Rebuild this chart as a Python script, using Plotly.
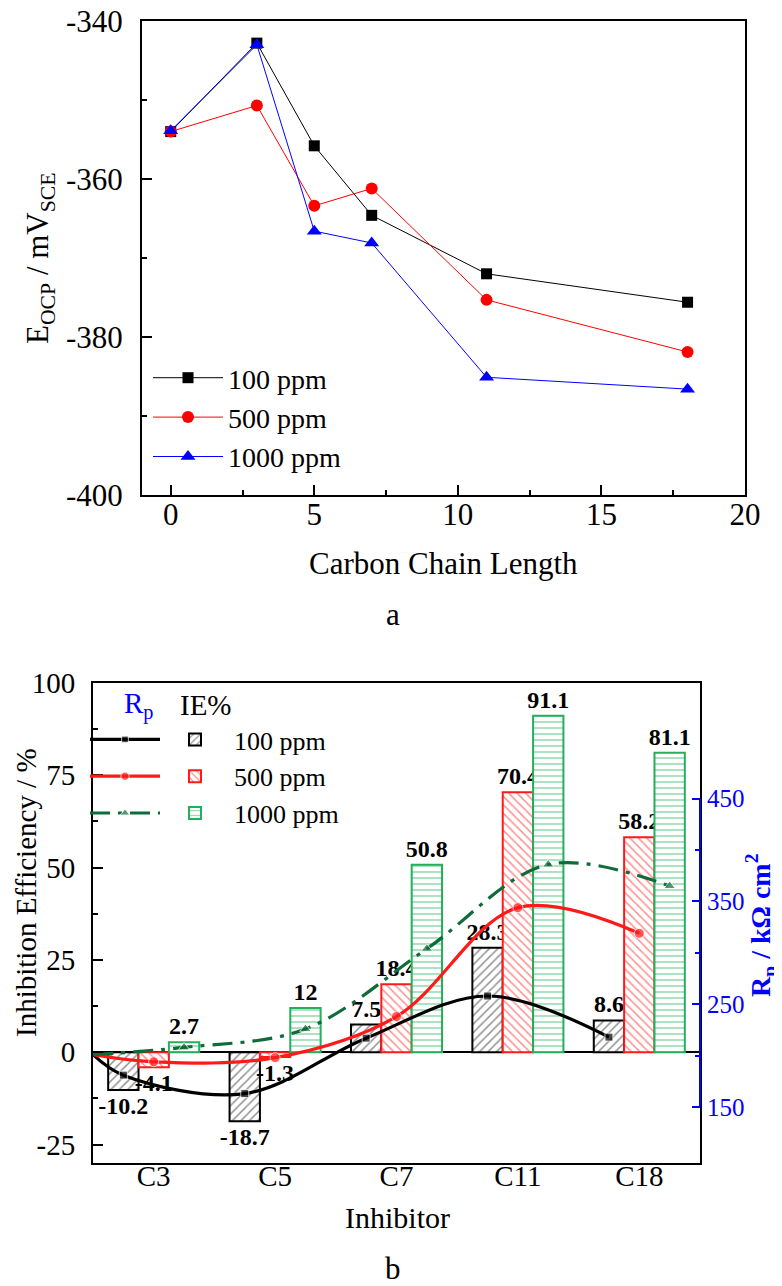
import numpy as np
import plotly.graph_objects as go

# ---------------- data: panel a ----------------
chain_length = [0, 3, 5, 7, 11, 18]
eocp_100 = [-354.0, -342.8, -355.8, -364.6, -372.0, -375.6]
eocp_500 = [-354.0, -350.7, -363.4, -361.2, -375.3, -381.9]
eocp_1000 = [-353.9, -343.0, -366.6, -368.1, -385.1, -386.6]
eocp_ticks = [-400, -380, -360, -340]
length_ticks = [0, 5, 10, 15, 20]

# ---------------- data: panel b ----------------
inhibitors = ["C3", "C5", "C7", "C11", "C18"]
ie_100 = [-10.2, -18.7, 7.5, 28.3, 8.6]
ie_500 = [-4.1, -1.3, 18.4, 70.4, 58.2]
ie_1000 = [2.7, 12, 50.8, 91.1, 81.1]
ie_ticks = [-25, 0, 25, 50, 75, 100]
rp_blank = 201
rp_100 = [181, 163, 217, 258, 218]
rp_500 = [194, 198, 238, 344, 319]
rp_1000 = [208, 226, 304, 386, 365]
rp_ticks = [150, 250, 350, 450]

W, H = 782, 1286
FONT = "Liberation Serif"


def fx(px):
    return px / W


def fy(py):
    return 1 - py / H


def labels(vals):
    return [f"{v:g}" for v in vals]


fig = go.Figure()

# ---------- panel a traces ----------
for name, vals, col, sym, ms in [
    ("100 ppm", eocp_100, "black", "square", 11),
    ("500 ppm", eocp_500, "#ff0000", "circle", 12),
    ("1000 ppm", eocp_1000, "#0000ff", "triangle-up", 13),
]:
    fig.add_trace(go.Scatter(
        x=chain_length, y=vals, name=name, mode="lines+markers",
        line=dict(color=col, width=1), marker=dict(symbol=sym, size=ms, color=col),
        xaxis="x", yaxis="y", legend="legend"))

# ---------- panel b bars ----------
pos = np.arange(1, len(inhibitors) + 1)
bar_specs = [
    ("100 ppm", ie_100, "black", "#222222", "/"),
    ("500 ppm", ie_500, "#ff1a1a", "#ff1a1a", "\\"),
    ("1000 ppm", ie_1000, "#22b05a", "#22b05a", "-"),
]
for name, vals, edge, hatch, shape in bar_specs:
    fig.add_trace(go.Bar(
        x=pos, y=vals, name=name, xaxis="x2", yaxis="y2", legend="legend2",
        marker=dict(color="white", line=dict(color=edge, width=2),
                    pattern=dict(shape=shape, fgcolor=hatch, bgcolor="white",
                                 size=6, solidity=0.25)),
        text=labels(vals), textposition="outside",
        textfont=dict(family=FONT, size=24, color="black", weight="bold"),
        constraintext="none", cliponaxis=False))

# ---------- panel b Rp curves ----------
bargap = 0.25
bw = (1 - bargap) / 3
x_blank = 0.5
rp_specs = [
    (rp_100, -bw, "black", "square", 8, "solid"),
    (rp_500, 0.0, "#ff1a1a", "circle", 10, "solid"),
    (rp_1000, bw, "#0f6b3a", "triangle-up", 10, "20px,8px,4px,8px"),
]
for vals, off, col, sym, ms, dash in rp_specs:
    xs = [x_blank] + list(pos + off)
    ys = [rp_blank] + list(vals)
    fig.add_trace(go.Scatter(
        x=xs, y=ys, name=" ", mode="lines+markers", xaxis="x2", yaxis="y3",
        legend="legend3",
        line=dict(color=col, width=3.2, shape="spline", smoothing=1.0, dash=dash),
        marker=dict(symbol=sym, color=col, size=[0] + [ms] * len(vals)),
        cliponaxis=False))

axis_common = dict(showline=True, linecolor="black", linewidth=2, mirror=True,
                   showgrid=False, zeroline=False, ticks="inside",
                   tickcolor="black", tickwidth=2, ticklabeloverflow="allow",
                   tickfont=dict(family=FONT, size=31, color="black"))

layout = dict(
    width=W, height=H, margin=dict(l=0, r=0, t=0, b=0),
    paper_bgcolor="white", plot_bgcolor="white",
    barmode="group", bargap=bargap, bargroupgap=0,
    font=dict(family=FONT, color="black"),
    xaxis=dict(domain=[fx(134), fx(737)], anchor="y", range=[-1, 20],
               tickvals=length_ticks, ticktext=labels(length_ticks), ticklen=10,
               minor=dict(ticks="inside", dtick=2.5, tick0=0, ticklen=5,
                          tickcolor="black", tickwidth=2),
               ticklabelstandoff=-9, automargin=False, **axis_common),
    yaxis=dict(domain=[fy(487), fy(13)], anchor="x", range=[-400, -340],
               tickvals=eocp_ticks, ticktext=labels(eocp_ticks), ticklen=10,
               minor=dict(ticks="inside", dtick=10, tick0=-400, ticklen=5,
                          tickcolor="black", tickwidth=2),
               ticklabelstandoff=11, automargin=False, **axis_common),
    xaxis2=dict(domain=[fx(85), fx(692)], anchor="y2", range=[0.5, 5.5],
                tickvals=list(pos), ticktext=inhibitors, automargin=False,
                ticklabelstandoff=-14,
                **{**axis_common, "ticks": "", "tickfont": dict(family=FONT, size=29, color="black")}),
    xaxis3=dict(overlaying="x2", anchor="y2", range=[0.5, 5.5],
                tickvals=list(0.5 + 0.625 * np.arange(1, 8)), showticklabels=False,
                ticks="inside", ticklen=7, tickwidth=2, tickcolor="black",
                showline=False, showgrid=False, zeroline=False),
    yaxis2=dict(domain=[fy(1155), fy(675)], anchor="x2", range=[-30, 100],
                tickvals=ie_ticks, ticktext=labels(ie_ticks), ticklen=10,
                minor=dict(ticks="inside", dtick=12.5, tick0=0, ticklen=5,
                           tickcolor="black", tickwidth=2),
                ticklabelstandoff=10, automargin=False,
                **{**axis_common, "zeroline": True, "zerolinecolor": "black", "zerolinewidth": 2,
                   "tickfont": dict(family=FONT, size=29, color="black")}),
    yaxis3=dict(overlaying="y2", anchor="x2", side="right", range=[95.5, 562.6],
                tickvals=rp_ticks, ticktext=labels(rp_ticks), ticks="inside", ticklen=8,
                tickcolor="#0000ff", tickwidth=2,
                minor=dict(ticks="inside", tickmode="array", tickvals=[200, 300, 400],
                           ticklen=5, tickcolor="#0000ff", tickwidth=2),
                tickfont=dict(family=FONT, size=25, color="#0000ff"),
                showline=False, showgrid=False, zeroline=False,
                ticklabelstandoff=6, automargin=False),
    legend=dict(x=fx(140), y=fy(345), xanchor="left", yanchor="top",
                bgcolor="rgba(0,0,0,0)", font=dict(family=FONT, size=28),
                itemwidth=70, tracegroupgap=0),
    legend2=dict(x=fx(148), y=fy(708), xanchor="left", yanchor="top",
                 bgcolor="rgba(0,0,0,0)", font=dict(family=FONT, size=26),
                 itemwidth=68),
    legend3=dict(x=fx(77), y=fy(708), xanchor="left", yanchor="top",
                 bgcolor="rgba(0,0,0,0)", font=dict(family=FONT, size=26),
                 itemwidth=70),
    shapes=[dict(type="line", xref="paper", yref="y3", x0=fx(692), x1=fx(692),
                 y0=150, y1=450, line=dict(color="#0000ff", width=2), layer="above")],
    annotations=[
        dict(text="Carbon Chain Length", x=fx(435), y=fy(555), xref="paper", yref="paper",
             showarrow=False, font=dict(family=FONT, size=31), xanchor="center", yanchor="middle"),
        dict(text="a", x=fx(385), y=fy(606), xref="paper", yref="paper",
             showarrow=False, font=dict(family=FONT, size=31), xanchor="center", yanchor="middle"),
        dict(text="E<sub>OCP</sub> / mV<sub>SCE</sub>", x=fx(32), y=fy(250), xref="paper",
             yref="paper", showarrow=False, textangle=-90,
             font=dict(family=FONT, size=31), xanchor="center", yanchor="middle"),
        dict(text="Inhibitor", x=fx(389), y=fy(1209), xref="paper", yref="paper",
             showarrow=False, font=dict(family=FONT, size=30), xanchor="center", yanchor="middle"),
        dict(text="Inhibition Efficiency / %", x=fx(18), y=fy(885), xref="paper",
             yref="paper", showarrow=False, textangle=-90,
             font=dict(family=FONT, size=29), xanchor="center", yanchor="middle"),
        dict(text="<b>R<sub>p</sub> / kΩ cm<sup>2</sup></b>", x=fx(752), y=fy(918),
             xref="paper", yref="paper", showarrow=False, textangle=-90,
             font=dict(family=FONT, size=28, color="#0000ff"), xanchor="center", yanchor="middle"),
        dict(text="b", x=fx(385), y=fy(1260), xref="paper", yref="paper",
             showarrow=False, font=dict(family=FONT, size=31), xanchor="center", yanchor="middle"),
        dict(text="R<sub>p</sub>", x=fx(130), y=fy(697), xref="paper", yref="paper",
             showarrow=False, font=dict(family=FONT, size=29, color="#0000ff"),
             xanchor="center", yanchor="middle"),
        dict(text="IE%", x=fx(198), y=fy(697), xref="paper", yref="paper",
             showarrow=False, font=dict(family=FONT, size=29, color="black"),
             xanchor="center", yanchor="middle"),
    ],
)
fig.update_layout(**layout)
fig.write_html("out.html")
